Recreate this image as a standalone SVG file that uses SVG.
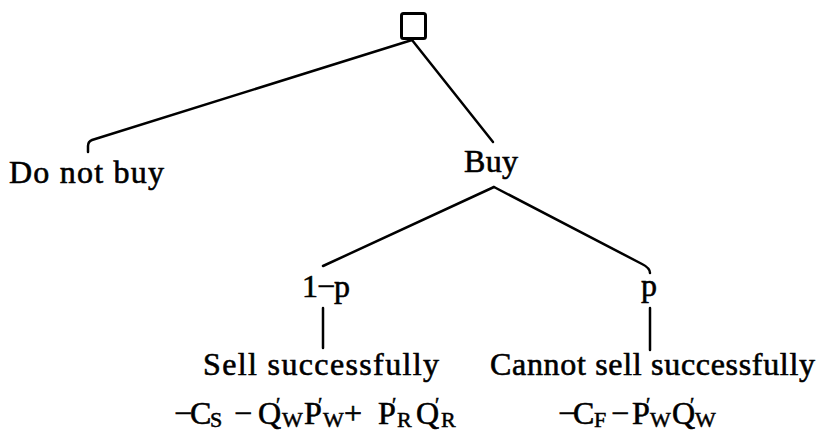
<svg xmlns="http://www.w3.org/2000/svg" width="820" height="441" viewBox="0 0 820 441">
<style>
  .t { font-family: "Liberation Serif", "DejaVu Serif", serif; font-size: 32px; fill: #000; stroke: #000; stroke-width: 0.6px; }
  .s { font-family: "Liberation Serif", "DejaVu Serif", serif; font-size: 22px; fill: #000; stroke: #000; stroke-width: 0.5px; }
  .pr { font-family: "Liberation Serif", "DejaVu Serif", serif; font-size: 20px; fill: #000; stroke: #000; stroke-width: 0.5px; }
  .c { fill: none; stroke: #000; stroke-width: 2.5; stroke-linecap: round; stroke-linejoin: round; }
</style>
<rect width="820" height="441" fill="#fff"/>
<g id="connectors">
  <path class="c" d="M412,40 L92,140 Q88,141.5 88,146 L88,152"/>
  <path class="c" d="M412,40 L493,142"/>
  <path class="c" d="M494,187 L323,266"/>
  <path class="c" d="M494,187 L642,264 Q650,268 650,273"/>
  <path class="c" d="M323,308 L323,348"/>
  <path class="c" d="M650,308 L650,350"/>
</g>
<g id="root">
  <rect x="401.5" y="13.5" width="24" height="25" rx="2" fill="none" stroke="#000" stroke-width="3"/>
</g>
<g id="do-not-buy">
  <text class="t" x="9" y="183" textLength="155" lengthAdjust="spacing">Do not buy</text>
</g>
<g id="buy">
  <text class="t" x="464" y="172" textLength="54" lengthAdjust="spacing">Buy</text>
</g>
<g id="one-minus-p">
  <text class="t" x="302" y="297" textLength="48" lengthAdjust="spacing">1−p</text>
</g>
<g id="p">
  <text class="t" x="641" y="296">p</text>
</g>
<g id="sell">
  <text class="t" x="203" y="375" textLength="236" lengthAdjust="spacing">Sell successfully</text>
  <text class="t" x="174" y="424">−</text>
  <text class="t" x="190" y="424">C</text>
  <text class="s" x="210" y="427">S</text>
  <text class="t" x="234" y="424">−</text>
  <text class="t" x="258" y="424">Q</text>
  <text class="s" x="282" y="427">W</text>
  <text class="t" x="304" y="424">P</text>
  <text class="s" x="323" y="427">W</text>
  <text class="t" x="344" y="424">+</text>
  <text class="t" x="378" y="424">P</text>
  <text class="s" x="397" y="427">R</text>
  <text class="t" x="416" y="424">Q</text>
  <text class="s" x="441" y="427">R</text>
  <text class="pr" x="276" y="412">′</text>
  <text class="pr" x="318" y="412">′</text>
  <text class="pr" x="392" y="412">′</text>
  <text class="pr" x="435" y="412">′</text>
</g>
<g id="cannot-sell">
  <text class="t" x="490" y="375" textLength="325" lengthAdjust="spacing">Cannot sell successfully</text>
  <text class="t" x="558" y="424">−</text>
  <text class="t" x="573" y="424">C</text>
  <text class="s" x="594" y="427">F</text>
  <text class="t" x="611" y="424">−</text>
  <text class="t" x="632" y="424">P</text>
  <text class="s" x="650" y="427">W</text>
  <text class="t" x="672" y="424">Q</text>
  <text class="s" x="695" y="427">W</text>
  <text class="pr" x="646" y="412">′</text>
  <text class="pr" x="690" y="412">′</text>
</g>
</svg>
